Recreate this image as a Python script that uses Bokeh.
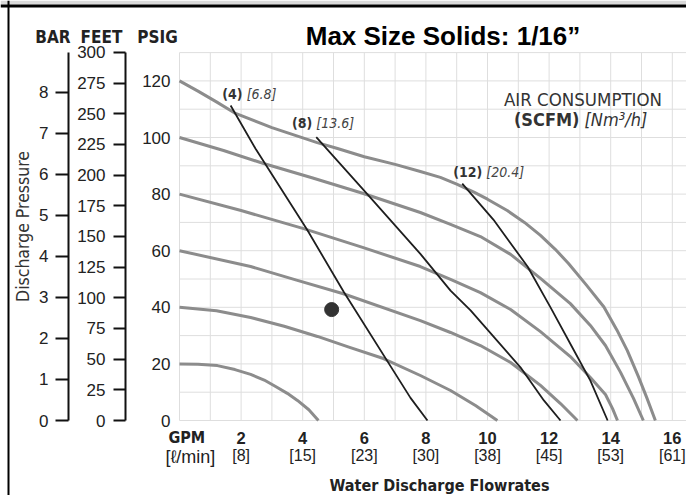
import math
from bokeh.plotting import figure
from bokeh.models import Range1d, LinearAxis, FixedTicker, Span, BoxAnnotation
from bokeh.embed import file_html
from bokeh.resources import INLINE
from bokeh.core.properties import value

# ---------------- data (GPM vs PSIG) ----------------
gpm_ticks = [2, 4, 6, 8, 10, 12, 14, 16]
lpm_labels = ["[8]", "[15]", "[23]", "[30]", "[38]", "[45]", "[53]", "[61]"]
psig_ticks = [0, 20, 40, 60, 80, 100, 120]
feet_ticks = [0, 25, 50, 75, 100, 125, 150, 175, 200, 225, 250, 275, 300]
bar_ticks = [0, 1, 2, 3, 4, 5, 6, 7, 8]
grid_gpm = list(range(0, 17))
grid_psi = list(range(0, 131, 10))

# discharge pressure curves for air inlet pressures 120 ... 20 psig
c120_x = [0, 0.6, 1.2, 1.82, 3.0, 4.47, 5.13, 6.0, 7.0, 7.82, 8.47, 9.0, 9.56, 10.0, 10.64,
          11.2, 11.72, 12.2, 12.63, 13.2, 13.78, 14.2, 14.54, 14.9, 15.18, 15.45]
c120_y = [120, 116.4, 112.6, 108.5, 103.5, 98.2, 96.1, 93.2, 90.5, 88.0, 85.9, 83.5, 80.7, 78.2, 74.2,
          70.0, 65.4, 60.5, 55.5, 48.0, 40.1, 32.0, 24.7, 15.5, 7.8, 0]
c100_x = [0, 1.43, 2.73, 4.3, 5.97, 7.82, 8.80, 9.77, 10.75, 11.72, 12.69, 13.34, 13.83, 14.32, 14.74, 15.06]
c100_y = [100, 95.4, 90.8, 85.8, 80.2, 73.5, 69.3, 65.0, 58.7, 50.2, 41.3, 33.6, 26.5, 17.0, 7.8, 0]
c80_x = [0, 2.0, 4.03, 5.97, 7.82, 8.80, 9.77, 10.75, 11.72, 12.69, 13.34, 13.83, 14.06, 14.22]
c80_y = [80, 74.2, 67.8, 61.1, 54.4, 49.9, 45.2, 39.2, 31.4, 22.6, 15.2, 9.2, 4.2, 0]
c60_x = [0, 2.31, 3.8, 5.32, 7.82, 8.80, 9.77, 10.75, 11.72, 12.37, 12.92]
c60_y = [60, 54.4, 49.6, 44.8, 35.3, 31.1, 26.5, 20.5, 12.4, 6.0, 0]
c40_x = [0, 1.2, 2.31, 3.4, 4.48, 5.5, 6.62, 7.82, 8.80, 9.61, 10.32]
c40_y = [40, 38.8, 36.4, 33.3, 29.7, 25.9, 21.9, 15.9, 10.6, 5.3, 0]
c20_x = [0, 0.6, 1.23, 1.8, 2.31, 2.75, 3.12, 3.5, 3.83, 4.2, 4.51]
c20_y = [20, 19.9, 19.4, 18.0, 16.3, 14.3, 12.0, 9.6, 7.1, 3.8, 0]
pressure_curves = [(c120_x, c120_y), (c100_x, c100_y), (c80_x, c80_y),
                   (c60_x, c60_y), (c40_x, c40_y), (c20_x, c20_y)]

# air consumption lines: SCFM 4, 8, 12
a4_x = [1.66, 2.47, 4.15, 5.33, 7.50, 8.05]
a4_y = [111.3, 96.0, 67.3, 45.5, 8.0, 0]
a8_x = [4.44, 6.09, 7.82, 8.80, 9.45, 11.07, 11.83, 12.37]
a8_y = [100.1, 80.1, 58.9, 45.9, 38.9, 18.8, 7.1, 0]
a12_x = [9.18, 10.19, 11.30, 12.05, 12.79, 13.34, 13.90]
a12_y = [83.7, 71.0, 54.4, 39.9, 25.1, 14.1, 0]
air_lines = [(a4_x, a4_y), (a8_x, a8_y), (a12_x, a12_y)]
air_scfm = ["(4)", "(8)", "(12)"]
air_nm3 = ["[6.8]", "[13.6]", "[20.4]"]

dot_x = [4.94]
dot_y = [39.2]

# ---------------- geometry ----------------
W, H = 686, 495
GPM_PX, PSI_PX = 30.8, 2.83
OX, OY = 179, 420                  # pixel of (0 GPM, 0 PSIG)
x_start, x_end = -OX / GPM_PX, (W - OX) / GPM_PX
y_start, y_end = -(H - OY) / PSI_PX, OY / PSI_PX
PSI_PER_FT, PSI_PER_BAR = 0.4335, 14.5038


def gx(px):  # pixel -> GPM
    return (px - OX) / GPM_PX


def gy(py):  # pixel -> PSIG
    return (OY - py) / PSI_PX


NARROW = "DejaVu Sans Condensed, Roboto Condensed, Liberation Sans Narrow, Liberation Sans, sans-serif"
SANS = "Liberation Sans"
TXT = "#222222"

p = figure(width=W, height=H, output_backend="svg", toolbar_location=None,
           x_range=Range1d(x_start, x_end), y_range=Range1d(y_start, y_end),
           x_axis_type=None, y_axis_type=None, min_border=0)
p.outline_line_color = None
p.background_fill_color = "white"
p.border_fill_color = "white"

p.extra_y_ranges = {
    "feet": Range1d(y_start / PSI_PER_FT, y_end / PSI_PER_FT),
    "bar": Range1d(y_start / PSI_PER_BAR, y_end / PSI_PER_BAR),
}

# grid
p.segment(x0=grid_gpm, y0=[0] * len(grid_gpm), x1=grid_gpm, y1=[130] * len(grid_gpm),
          line_color="#dedede", line_width=1)
p.segment(x0=[0] * len(grid_psi), y0=grid_psi, x1=[x_end] * len(grid_psi), y1=grid_psi,
          line_color="#dedede", line_width=1)

# curves
for cx, cy in pressure_curves:
    p.line(cx, cy, line_color="#8c8c8c", line_width=3, line_join="round")
for (lx, ly) in air_lines:
    p.line(lx, ly, line_color="#1e1e1e", line_width=1.8, line_join="round")
p.scatter(dot_x, dot_y, size=14, fill_color="#333333", line_color="#333333")

# air line labels anchored at line starts
lab_dx_bold = [12, -4, 20]     # px offsets (right edge of the SCFM part)
lab_dx_ital = [16, 0, 24]
lab_dy = [11.5, 14, 12]
for i, (lx, ly) in enumerate(air_lines):
    yy = ly[0] + lab_dy[i] / PSI_PX
    p.text(x=[lx[0] + lab_dx_bold[i] / GPM_PX], y=[yy], text=[air_scfm[i]],
           text_font=value(NARROW), text_font_size="14px", text_font_style="bold",
           text_align="right", text_baseline="middle", text_color="#333333")
    p.text(x=[lx[0] + lab_dx_ital[i] / GPM_PX], y=[yy], text=[air_nm3[i]],
           text_font=value(NARROW), text_font_size="14px", text_font_style="italic",
           text_align="left", text_baseline="middle", text_color="#444444")

# ---------------- axes ----------------
def style_axis(ax, standoff, size="17px", bold=False, line=False, tick_out=0):
    if line:
        ax.axis_line_width = 2
        ax.axis_line_color = "#111111"
        ax.major_tick_line_width = 2
        ax.major_tick_line_color = "#111111"
        ax.major_tick_out = tick_out
        ax.major_tick_in = 0
    else:
        ax.axis_line_color = None
        ax.major_tick_line_color = None
    ax.minor_tick_line_color = None
    ax.major_label_standoff = standoff
    ax.major_label_text_font = SANS
    ax.major_label_text_font_size = size
    ax.major_label_text_color = TXT
    if bold:
        ax.major_label_text_font_style = "bold"


ax_psi = LinearAxis(fixed_location=0, ticker=FixedTicker(ticks=psig_ticks))
style_axis(ax_psi, 3)
p.add_layout(ax_psi, "left")

ax_ft = LinearAxis(y_range_name="feet", fixed_location=gx(125), bounds=(0, 300),
                   ticker=FixedTicker(ticks=feet_ticks))
style_axis(ax_ft, 8, line=True, tick_out=12)
p.add_layout(ax_ft, "left")

ax_bar = LinearAxis(y_range_name="bar", fixed_location=gx(68), bounds=(0, 130 / PSI_PER_BAR),
                    ticker=FixedTicker(ticks=bar_ticks))
style_axis(ax_bar, 7, line=True, tick_out=13)
p.add_layout(ax_bar, "left")

ax_gpm = LinearAxis(fixed_location=0, ticker=FixedTicker(ticks=gpm_ticks))
style_axis(ax_gpm, 5, size="16.5px", bold=True)
p.add_layout(ax_gpm, "below")

ax_lpm = LinearAxis(fixed_location=0, ticker=FixedTicker(ticks=gpm_ticks),
                    major_label_overrides={t: s for t, s in zip(gpm_ticks, lpm_labels)})
style_axis(ax_lpm, 20, size="16px")
p.add_layout(ax_lpm, "below")

# ---------------- texts ----------------
def txt(px, py, s, font=NARROW, size="17px", style="normal", align="center", angle=0, color=TXT):
    p.text(x=[gx(px)], y=[gy(py)], text=[s], text_font=value(font), text_font_size=size,
           text_font_style=style, text_align=align, text_baseline="middle",
           angle=angle, text_color=color)


txt(442.5, 35.5, "Max Size Solids: 1/16\u201d", font=SANS, size="26px", style="bold", color="black")
txt(52.5, 36, "BAR", size="17px", style="bold")
txt(101, 36, "FEET", size="17px", style="bold")
txt(157, 36, "PSIG", size="17px", style="bold")
txt(22, 226, "Discharge Pressure", size="17.5px", angle=math.pi / 2, color="#333333")
txt(582.5, 98.5, "AIR CONSUMPTION", size="18.5px", color="#333333")
txt(579, 119, "(SCFM)", size="18px", style="bold", align="right", color="#333333")
txt(584, 119, "[Nm\u00b3/h]", size="18px", style="italic", align="left", color="#333333")
txt(168, 437, "GPM", size="16px", style="bold", align="left")
txt(165, 456, "[\u2113/min]", font=SANS, size="18px", align="left")
txt(439, 485, "Water Discharge Flowrates", size="16px", style="bold")

# frame lines
p.add_layout(BoxAnnotation(top=gy(0), bottom=gy(4), fill_color="#d9d9d9", fill_alpha=1,
                           line_color=None))
p.add_layout(Span(location=gy(5.5), dimension="width", line_color="black", line_width=3))
p.add_layout(Span(location=gx(8), dimension="height", line_color="black", line_width=2))

open("out.html", "w").write(file_html(p, INLINE))
